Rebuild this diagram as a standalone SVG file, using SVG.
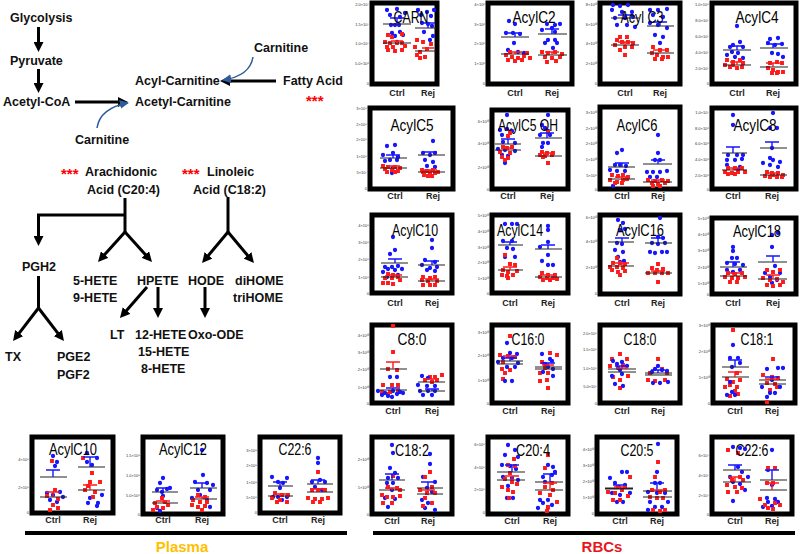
<svg xmlns="http://www.w3.org/2000/svg" width="800" height="554" viewBox="0 0 800 554">
<style>
.pw{font-family:"Liberation Sans",Arial,sans-serif;font-weight:bold;font-size:12.5px;fill:#111}
.st{font-family:"Liberation Sans",Arial,sans-serif;font-weight:bold;font-size:15px;fill:#f00}
.box{fill:#fff;stroke:#000;stroke-width:5}
.tk{font-family:"Liberation Sans",Arial,sans-serif;font-size:4px;fill:#333;text-anchor:end}
.ttl{font-family:"Liberation Sans",Arial,sans-serif;font-size:16px;fill:#000;text-anchor:middle}
.xl{font-family:"Liberation Sans",Arial,sans-serif;font-weight:bold;font-size:9px;fill:#222;text-anchor:middle}
.b{fill:none;stroke:#1616ff;stroke-width:4.3;stroke-linecap:round}
.r{fill:none;stroke:#ff1a1a;stroke-width:3.9;stroke-linecap:square}
.m{fill:none;stroke:#222;stroke-width:1.2}
.sb{fill:none;stroke:#1616ff;stroke-width:1.4}
.sr{fill:none;stroke:#ff1a1a;stroke-width:1.4}
.ar{fill:none;stroke:#000;stroke-width:3}
.bl{fill:none;stroke:#2e5b9a;stroke-width:1.5}
.grp{font-family:"Liberation Sans",Arial,sans-serif;font-weight:bold;font-size:15px;text-anchor:middle}
</style>
<defs>
<marker id="ah" viewBox="0 0 10 10" refX="4" refY="5" markerWidth="10" markerHeight="10" markerUnits="userSpaceOnUse" orient="auto"><path d="M0 0L10 5L0 10z" fill="#000"/></marker>
<marker id="bh" viewBox="0 0 10 10" refX="9" refY="5" markerWidth="9" markerHeight="9" markerUnits="userSpaceOnUse" orient="auto"><path d="M0 0L10 5L0 10z" fill="#2e5b9a"/></marker>
</defs>
<rect width="800" height="554" fill="#fff"/>

<g id="connectors">
<path class="ar" d="M38.5 27V46" marker-end="url(#ah)"/>
<path class="ar" d="M38.5 69V87" marker-end="url(#ah)"/>
<path class="ar" d="M75 102H122" marker-end="url(#ah)"/>
<path class="ar" d="M276 81H226" marker-end="url(#ah)"/>
<path class="bl" d="M253 57Q250 76 223 80" marker-end="url(#bh)"/>
<path class="bl" d="M97 128Q100 108 128 103" marker-end="url(#bh)"/>
<path class="ar" d="M125 198V232"/>
<path class="ar" d="M125 215H38.5V240" marker-end="url(#ah)"/>
<path class="ar" d="M125 232L102 257.5" marker-end="url(#ah)"/>
<path class="ar" d="M125 232L148 257.5" marker-end="url(#ah)"/>
<path class="ar" d="M228 197V232"/>
<path class="ar" d="M228 232L205.9 258.4" marker-end="url(#ah)"/>
<path class="ar" d="M228 232L250.1 258.4" marker-end="url(#ah)"/>
<path class="ar" d="M38.5 276V308"/>
<path class="ar" d="M38.5 308L16.7 336.3" marker-end="url(#ah)"/>
<path class="ar" d="M38.5 308L60.3 336.3" marker-end="url(#ah)"/>
<path class="ar" d="M147 287L123.9 313.5" marker-end="url(#ah)"/>
<path class="ar" d="M158 287V312" marker-end="url(#ah)"/>
<path class="ar" d="M205 287V312" marker-end="url(#ah)"/>
</g>

<g id="n-glycolysis"><text class="pw" x="10" y="22">Glycolysis</text></g>
<g id="n-pyruvate"><text class="pw" x="10" y="65">Pyruvate</text></g>
<g id="n-acetylcoa"><text class="pw" x="3" y="106">Acetyl-CoA</text></g>
<g id="n-acylcarnitine"><text class="pw" x="135" y="85">Acyl-Carnitine</text></g>
<g id="n-acetylcarnitine"><text class="pw" x="135" y="106">Acetyl-Carnitine</text></g>
<g id="n-fattyacid"><text class="pw" x="283" y="85">Fatty Acid</text><text class="st" x="306" y="106">***</text></g>
<g id="n-carnitine1"><text class="pw" x="254" y="52">Carnitine</text></g>
<g id="n-carnitine2"><text class="pw" x="75" y="144">Carnitine</text></g>
<g id="n-arachidonic"><text class="st" x="61" y="179">***</text><text class="pw" x="85" y="176">Arachidonic</text><text class="pw" x="87" y="194">Acid (C20:4)</text></g>
<g id="n-linoleic"><text class="st" x="182" y="179">***</text><text class="pw" x="207" y="176">Linoleic</text><text class="pw" x="193" y="194">Acid (C18:2)</text></g>
<g id="n-pgh2"><text class="pw" x="22" y="271">PGH2</text></g>
<g id="n-hete59"><text class="pw" x="73" y="285">5-HETE</text><text class="pw" x="73" y="302">9-HETE</text></g>
<g id="n-hpete"><text class="pw" x="137" y="285">HPETE</text></g>
<g id="n-hode"><text class="pw" x="188" y="285">HODE</text></g>
<g id="n-dihome"><text class="pw" x="235" y="285">diHOME</text><text class="pw" x="233" y="302">triHOME</text></g>
<g id="n-lt"><text class="pw" x="110" y="339">LT</text></g>
<g id="n-hete12"><text class="pw" x="135" y="339">12-HETE</text><text class="pw" x="138" y="356">15-HETE</text><text class="pw" x="141" y="373">8-HETE</text></g>
<g id="n-oxoode"><text class="pw" x="188" y="339">Oxo-ODE</text></g>
<g id="n-tx"><text class="pw" x="5" y="361">TX</text></g>
<g id="n-pge2"><text class="pw" x="57" y="361">PGE2</text><text class="pw" x="57" y="379">PGF2</text></g>

<!-- RBC row 1 -->
<g id="p-carn">
<rect class="box" x="372" y="3" width="65" height="81"/>
<text class="tk" x="369" y="5.5">2.0×10⁷</text><text class="tk" x="369" y="25.5">1.5×10⁷</text><text class="tk" x="369" y="44.5">1.0×10⁷</text><text class="tk" x="369" y="64.5">5.0×10⁶</text><text class="tk" x="369" y="84.5">0</text>
<path class="b" d="M387 10h0M397 9h0M405 13h0M390 15h0M400 17h0M391 25h0M395 25h0M399 25h0M392 33h0M400 32h0M395 36h0M403 35h0M397 42h0M418 10h0M427 12h0M434 10h0M421 15h0M431 16h0M422 23h0M428 24h0M432 26h0M424 32h0M433 36h0M430 40h0"/>
<path class="r" d="M388 35h0M392 37h0M402 34h0M385 42h0M390 43h0M397 43h0M402 43h0M387 47h0M393 47h0M405 46h0M388 50h0M395 51h0M402 50h0M417 40h0M423 42h0M431 44h0M415 47h0M427 49h0M420 52h0M417 55h0M425 57h0M420 58h0"/>
<path class="m" d="M383 24H411M383 43H411M415 28H436M415 51H436"/>
<path class="sb" d="M390 18H404M397 18V24M421 23H435M428 23V28"/>
<path class="sr" d="M391 41H403M397 41V43M422 48H434M428 48V51"/>
<text class="ttl" x="411" y="23" textLength="35" lengthAdjust="spacingAndGlyphs">CARN</text>
<text class="xl" x="397" y="96">Ctrl</text><text class="xl" x="428" y="96">Rej</text>
</g>

<g id="p-acylc2">
<rect class="box" x="488" y="3" width="84" height="81"/>
<text class="tk" x="485" y="5.5">4×10⁶</text><text class="tk" x="485" y="25.5">3×10⁶</text><text class="tk" x="485" y="44.5">2×10⁶</text><text class="tk" x="485" y="64.5">1×10⁶</text><text class="tk" x="485" y="84.5">0</text>
<path class="b" d="M509 21h0M515 24h0M506 33h0M513 33h0M520 34h0M514 43h0M508 50h0M518 52h0M524 53h0M547 24h0M555 25h0M560 24h0M552 28h0M542 30h0M555 32h0M548 40h0M555 40h0M545 43h0M557 43h0M553 48h0"/>
<path class="r" d="M506 55h0M512 57h0M518 58h0M524 56h0M530 58h0M508 60h0M515 61h0M522 60h0M510 52h0M527 53h0M542 52h0M548 53h0M555 52h0M562 54h0M545 57h0M552 58h0M560 57h0M547 62h0M556 61h0"/>
<path class="m" d="M501 37H529M501 54H529M538 34H567M538 55H567"/>
<path class="sb" d="M508 33H522M515 33V37M545 29H559M552 29V34"/>
<path class="sr" d="M508 52H522M515 52V54M545 52H559M552 52V55"/>
<text class="ttl" x="534" y="23" textLength="43" lengthAdjust="spacingAndGlyphs">AcylC2</text>
<text class="xl" x="515" y="96">Ctrl</text><text class="xl" x="552" y="96">Rej</text>
</g>

<g id="p-acylc3">
<rect class="box" x="600" y="3" width="80" height="81"/>
<text class="tk" x="597" y="5.5">8×10¹⁰</text><text class="tk" x="597" y="25.5">6×10¹⁰</text><text class="tk" x="597" y="44.5">4×10¹⁰</text><text class="tk" x="597" y="64.5">2×10¹⁰</text><text class="tk" x="597" y="84.5">0</text>
<path class="b" d="M613 5h0M620 6h0M628 5h0M612 10h0M622 12h0M632 12h0M615 18h0M625 18h0M633 17h0M617 25h0M627 25h0M635 27h0M650 10h0M658 10h0M667 9h0M653 15h0M663 17h0M650 23h0M658 25h0M667 28h0M655 35h0M663 37h0M660 43h0"/>
<path class="r" d="M620 37h0M627 37h0M617 40h0M622 42h0M628 42h0M633 43h0M615 45h0M625 47h0M632 47h0M620 50h0M625 55h0M653 47h0M660 50h0M667 50h0M652 53h0M657 55h0M663 57h0M668 57h0M655 59h0M662 59h0"/>
<path class="m" d="M611 18H639M611 45H639M647 26H674M647 53H674"/>
<path class="sb" d="M618 15H632M625 15V18M653 22H667M660 22V26"/>
<path class="sr" d="M618 42H632M625 42V45M653 50H667M660 50V53"/>
<text class="ttl" x="642" y="23" textLength="43" lengthAdjust="spacingAndGlyphs">Acyl C3</text>
<text class="xl" x="625" y="96">Ctrl</text><text class="xl" x="660" y="96">Rej</text>
</g>

<g id="p-acylc4">
<rect class="box" x="712" y="3" width="84" height="81"/>
<text class="tk" x="709" y="5.5">1.0×10⁸</text><text class="tk" x="709" y="21.5">8.0×10⁷</text><text class="tk" x="709" y="37.5">6.0×10⁷</text><text class="tk" x="709" y="53.5">4.0×10⁷</text><text class="tk" x="709" y="69.5">2.0×10⁷</text><text class="tk" x="709" y="84.5">0</text>
<path class="b" d="M737 26h0M740 42h0M733 45h0M730 47h0M743 47h0M732 52h0M738 53h0M727 55h0M735 57h0M743 58h0M770 39h0M778 38h0M768 43h0M775 45h0M782 44h0M772 53h0M778 54h0M783 57h0"/>
<path class="r" d="M727 60h0M733 62h0M740 60h0M743 63h0M725 65h0M730 67h0M737 68h0M742 67h0M733 65h0M770 63h0M777 62h0M782 63h0M768 68h0M773 70h0M778 72h0M783 72h0M772 73h0M777 73h0"/>
<path class="m" d="M723 50H751M723 65H751M760 48H788M760 67H788"/>
<path class="sb" d="M730 46H744M737 46V50M766 44H780M773 44V48"/>
<path class="sr" d="M730 62H744M737 62V65M766 63H780M773 63V67"/>
<text class="ttl" x="757" y="23" textLength="43" lengthAdjust="spacingAndGlyphs">AcylC4</text>
<text class="xl" x="737" y="96">Ctrl</text><text class="xl" x="773" y="96">Rej</text>
</g>

<!-- RBC row 2 -->
<g id="p-acylc5">
<rect class="box" x="370" y="108" width="83" height="81"/>
<text class="tk" x="367" y="109.5">3×10⁸</text><text class="tk" x="367" y="125.5">2×10⁸</text><text class="tk" x="367" y="140.5">2×10⁸</text><text class="tk" x="367" y="157.5">1×10⁸</text><text class="tk" x="367" y="173.5">5×10⁷</text><text class="tk" x="367" y="189.5">0</text>
<path class="b" d="M387 146h0M395 145h0M383 155h0M393 153h0M398 157h0M385 161h0M390 160h0M397 160h0M393 168h0M392 173h0M433 141h0M423 153h0M435 153h0M430 155h0M425 160h0M433 162h0M427 166h0M435 167h0"/>
<path class="r" d="M383 166h0M388 167h0M395 167h0M400 168h0M385 169h0M392 170h0M398 171h0M387 172h0M395 172h0M422 170h0M427 171h0M433 170h0M423 172h0M430 172h0M435 173h0M424 175h0M432 176h0M428 176h0M438 172h0"/>
<path class="m" d="M380 158H407M380 168H407M418 155H445M418 172H445"/>
<path class="sb" d="M386 155H400M393 155V158M423 152H437M430 152V155"/>
<path class="sr" d="M386 166H400M393 166V168M423 170H437M430 170V172"/>
<text class="ttl" x="412" y="131" textLength="43" lengthAdjust="spacingAndGlyphs">AcylC5</text>
<text class="xl" x="395" y="199">Ctrl</text><text class="xl" x="433" y="199">Rej</text>
</g>

<g id="p-acylc5oh">
<rect class="box" x="492" y="110" width="76" height="79"/>
<text class="tk" x="489" y="122.5">6×10¹⁰</text><text class="tk" x="489" y="144.5">4×10¹⁰</text><text class="tk" x="489" y="168.5">2×10¹⁰</text><text class="tk" x="489" y="190.5">0</text>
<path class="b" d="M507 115h0M500 130h0M507 129h0M512 131h0M502 135h0M515 143h0M503 142h0M498 149h0M505 150h0M515 151h0M502 155h0M508 156h0M505 163h0M548 115h0M542 125h0M545 128h0M548 131h0M540 135h0M550 135h0M543 143h0M548 143h0M542 147h0"/>
<path class="r" d="M510 133h0M508 136h0M503 147h0M512 147h0M507 148h0M500 152h0M510 153h0M502 157h0M508 158h0M505 160h0M548 132h0M542 152h0M547 153h0M553 153h0M540 155h0M545 156h0M552 155h0M548 163h0M543 157h0"/>
<path class="m" d="M495 144H521M495 150H521M535 138H562M535 156H562"/>
<path class="sb" d="M501 139H515M508 139V144M540 133H554M547 133V138"/>
<path class="sr" d="M502 148H514M508 148V150M540 153H554M547 153V156"/>
<text class="ttl" x="528" y="131" textLength="60" lengthAdjust="spacingAndGlyphs">AcylC5 OH</text>
<text class="xl" x="508" y="199">Ctrl</text><text class="xl" x="547" y="199">Rej</text>
</g>

<g id="p-acylc6">
<rect class="box" x="600" y="107" width="80" height="82"/>
<text class="tk" x="597" y="113.5">3×10¹⁰</text><text class="tk" x="597" y="129.5">2×10¹⁰</text><text class="tk" x="597" y="144.5">2×10¹⁰</text><text class="tk" x="597" y="160.5">1×10¹⁰</text><text class="tk" x="597" y="176.5">5×10⁹</text><text class="tk" x="597" y="190.5">0</text>
<path class="b" d="M622 150h0M617 153h0M615 165h0M620 165h0M626 166h0M610 170h0M617 171h0M625 171h0M613 186h0M658 135h0M658 153h0M655 160h0M660 160h0M647 172h0M653 172h0M660 172h0M667 171h0M650 177h0M657 177h0"/>
<path class="r" d="M612 175h0M618 176h0M623 175h0M628 177h0M610 180h0M617 182h0M623 180h0M615 183h0M622 183h0M627 179h0M648 180h0M655 181h0M662 180h0M668 181h0M652 183h0M658 184h0M665 183h0M653 186h0M660 186h0"/>
<path class="m" d="M608 167H635M608 179H635M643 164H672M643 182H672"/>
<path class="sb" d="M615 163H629M622 163V167M651 160H665M658 160V164"/>
<path class="sr" d="M615 177H629M622 177V179M651 180H665M658 180V182"/>
<text class="ttl" x="637" y="131" textLength="41" lengthAdjust="spacingAndGlyphs">AcylC6</text>
<text class="xl" x="622" y="199">Ctrl</text><text class="xl" x="658" y="199">Rej</text>
</g>

<g id="p-acylc8">
<rect class="box" x="712" y="108" width="84" height="81"/>
<text class="tk" x="709" y="113.5">1.0×10⁷</text><text class="tk" x="709" y="129.5">8.0×10⁶</text><text class="tk" x="709" y="144.5">6.0×10⁶</text><text class="tk" x="709" y="160.5">4.0×10⁶</text><text class="tk" x="709" y="176.5">2.0×10⁶</text><text class="tk" x="709" y="190.5">0</text>
<path class="b" d="M733 115h0M733 125h0M728 155h0M737 155h0M743 155h0M727 160h0M735 160h0M742 159h0M727 165h0M740 167h0M738 170h0M773 113h0M770 128h0M777 128h0M772 148h0M770 158h0M773 160h0M780 162h0M763 163h0M770 165h0M778 167h0"/>
<path class="r" d="M728 168h0M735 168h0M742 168h0M725 172h0M732 173h0M738 172h0M745 172h0M728 174h0M735 174h0M767 172h0M772 173h0M778 173h0M783 175h0M765 176h0M770 177h0M777 177h0M782 177h0M773 175h0"/>
<path class="m" d="M722 153H747M722 170H747M760 148H787M760 175H787"/>
<path class="sb" d="M726 147H740M733 147V153M765 142H779M772 142V148"/>
<path class="sr" d="M726 168H740M733 168V170M765 173H779M772 173V175"/>
<text class="ttl" x="755" y="131" textLength="43" lengthAdjust="spacingAndGlyphs">AcylC8</text>
<text class="xl" x="733" y="199">Ctrl</text><text class="xl" x="772" y="199">Rej</text>
</g>

<!-- RBC row 3 -->
<g id="p-acylc10">
<rect class="box" x="372" y="215" width="80" height="78"/>
<text class="tk" x="369" y="226.5">4×10⁸</text><text class="tk" x="369" y="243.5">3×10⁸</text><text class="tk" x="369" y="260.5">2×10⁸</text><text class="tk" x="369" y="278.5">1×10⁸</text><text class="tk" x="369" y="295">0</text>
<path class="b" d="M393 237h0M395 250h0M390 254h0M385 267h0M392 267h0M398 266h0M388 269h0M395 270h0M383 272h0M402 269h0M387 277h0M398 275h0M432 240h0M432 248h0M425 260h0M435 262h0M422 265h0M430 268h0M437 267h0M427 270h0M435 271h0"/>
<path class="r" d="M388 274h0M393 275h0M398 277h0M385 278h0M392 278h0M400 280h0M388 283h0M393 284h0M383 283h0M423 277h0M430 278h0M435 277h0M422 280h0M428 281h0M437 281h0M423 285h0M430 285h0M435 285h0"/>
<path class="m" d="M381 263H408M381 277H408M418 265H445M418 281H445"/>
<path class="sb" d="M388 259H402M395 259V263M425 261H439M432 261V265"/>
<path class="sr" d="M388 275H402M395 275V277M425 279H439M432 279V281"/>
<text class="ttl" x="415" y="236" textLength="46" lengthAdjust="spacingAndGlyphs">AcylC10</text>
<text class="xl" x="395" y="306">Ctrl</text><text class="xl" x="432" y="306">Rej</text>
</g>

<g id="p-acylc14">
<rect class="box" x="492" y="215" width="76" height="78"/>
<text class="tk" x="489" y="216.5">5×10¹⁰</text><text class="tk" x="489" y="232.5">4×10¹⁰</text><text class="tk" x="489" y="248.5">3×10¹⁰</text><text class="tk" x="489" y="263.5">2×10¹⁰</text><text class="tk" x="489" y="279.5">1×10¹⁰</text><text class="tk" x="489" y="295">0</text>
<path class="b" d="M505 224h0M512 224h0M517 224h0M503 241h0M512 241h0M507 248h0M513 249h0M505 257h0M515 257h0M548 226h0M548 230h0M548 242h0M540 247h0M548 255h0M542 261h0M548 265h0M553 265h0"/>
<path class="r" d="M505 255h0M510 264h0M515 265h0M503 270h0M508 272h0M517 271h0M502 275h0M507 276h0M513 275h0M508 278h0M542 273h0M548 275h0M555 275h0M540 277h0M547 278h0M553 278h0M543 280h0M550 280h0M557 279h0"/>
<path class="m" d="M498 245H523M498 270H523M535 249H562M535 277H562"/>
<path class="sb" d="M503 242H517M510 242V245M541 245H555M548 245V249"/>
<path class="sr" d="M503 267H517M510 267V270M541 275H555M548 275V277"/>
<text class="ttl" x="520" y="236" textLength="46" lengthAdjust="spacingAndGlyphs">AcylC14</text>
<text class="xl" x="510" y="306">Ctrl</text><text class="xl" x="548" y="306">Rej</text>
</g>

<g id="p-acylc16">
<rect class="box" x="600" y="215" width="80" height="79"/>
<text class="tk" x="597" y="218.5">6×10¹⁰</text><text class="tk" x="597" y="242.5">4×10¹⁰</text><text class="tk" x="597" y="268.5">2×10¹⁰</text><text class="tk" x="597" y="295">0</text>
<path class="b" d="M618 220h0M623 223h0M620 230h0M625 229h0M617 243h0M622 244h0M615 250h0M623 252h0M618 257h0M620 262h0M624 261h0M660 218h0M658 237h0M663 238h0M652 243h0M658 244h0M665 243h0M650 252h0M655 253h0M662 252h0M667 252h0"/>
<path class="r" d="M617 258h0M613 263h0M620 263h0M625 264h0M610 267h0M617 267h0M623 268h0M612 270h0M618 272h0M625 271h0M620 275h0M658 264h0M652 268h0M657 270h0M663 269h0M648 273h0M655 273h0M662 273h0M668 273h0M658 282h0"/>
<path class="m" d="M608 242H634M608 266H634M645 243H672M645 273H672"/>
<path class="sb" d="M615 238H629M622 238V242M651 238H665M658 238V243"/>
<path class="sr" d="M615 263H629M622 263V266M651 271H665M658 271V273"/>
<text class="ttl" x="640" y="236" textLength="48" lengthAdjust="spacingAndGlyphs">AcylC16</text>
<text class="xl" x="622" y="306">Ctrl</text><text class="xl" x="658" y="306">Rej</text>
</g>

<g id="p-acylc18">
<rect class="box" x="712" y="218" width="84" height="76"/>
<text class="tk" x="709" y="219.5">5×10¹⁰</text><text class="tk" x="709" y="235.5">4×10¹⁰</text><text class="tk" x="709" y="251.5">3×10¹⁰</text><text class="tk" x="709" y="268.5">2×10¹⁰</text><text class="tk" x="709" y="284.5">1×10¹⁰</text><text class="tk" x="709" y="296">0</text>
<path class="b" d="M733 247h0M733 251h0M732 258h0M737 258h0M727 263h0M735 264h0M743 265h0M727 270h0M733 272h0M740 270h0M772 235h0M778 233h0M772 247h0M775 266h0M765 273h0M780 273h0M770 277h0M777 280h0M772 283h0"/>
<path class="r" d="M728 273h0M735 274h0M742 273h0M725 277h0M732 278h0M738 278h0M745 277h0M730 282h0M737 282h0M767 270h0M773 272h0M780 270h0M763 278h0M770 280h0M777 279h0M783 282h0M767 285h0M773 286h0M780 285h0"/>
<path class="m" d="M720 267H747M720 276H747M758 262H787M758 279H787"/>
<path class="sb" d="M726 262H740M733 262V267M766 256H780M773 256V262"/>
<path class="sr" d="M726 273H740M733 273V276M766 275H780M773 275V279"/>
<text class="ttl" x="757" y="237" textLength="48" lengthAdjust="spacingAndGlyphs">AcylC18</text>
<text class="xl" x="733" y="306">Ctrl</text><text class="xl" x="773" y="306">Rej</text>
</g>

<!-- RBC row 4 -->
<g id="p-c80">
<rect class="box" x="372" y="325" width="80" height="78"/>
<text class="tk" x="369" y="336.5">4×10¹⁰</text><text class="tk" x="369" y="353.5">3×10¹⁰</text><text class="tk" x="369" y="370.5">2×10¹⁰</text><text class="tk" x="369" y="388.5">1×10¹⁰</text><text class="tk" x="369" y="405">0</text>
<path class="r" d="M393 326h0M393 352h0M388 369h0M397 370h0M383 385h0M392 385h0M398 385h0M382 392h0M390 392h0M398 391h0M388 394h0M430 377h0M435 377h0M442 375h0M425 380h0M432 382h0M437 380h0"/>
<path class="b" d="M390 377h0M397 377h0M378 391h0M385 393h0M393 391h0M400 392h0M382 395h0M388 396h0M397 394h0M403 393h0M392 397h0M422 376h0M428 378h0M418 385h0M427 386h0M435 386h0M420 391h0M428 391h0M435 391h0M423 395h0M432 395h0"/>
<path class="m" d="M380 369H407M380 390H407M418 382H445M418 391H445"/>
<path class="sr" d="M386 362H400M393 362V369M425 379H439M432 379V382"/>
<path class="sb" d="M386 388H400M393 388V390M425 389H439M432 389V391"/>
<text class="ttl" x="412" y="345" textLength="29" lengthAdjust="spacingAndGlyphs">C8:0</text>
<text class="xl" x="393" y="414">Ctrl</text><text class="xl" x="432" y="414">Rej</text>
</g>

<g id="p-c160">
<rect class="box" x="492" y="325" width="76" height="78"/>
<text class="tk" x="489" y="333.5">3×10¹⁰</text><text class="tk" x="489" y="356.5">2×10¹⁰</text><text class="tk" x="489" y="381.5">1×10¹⁰</text><text class="tk" x="489" y="405">0</text>
<path class="r" d="M510 336h0M500 355h0M508 356h0M515 357h0M503 362h0M502 369h0M510 370h0M505 373h0M503 379h0M550 353h0M557 355h0M542 362h0M545 368h0M540 373h0M548 373h0M540 381h0M547 380h0M548 388h0"/>
<path class="b" d="M507 343h0M510 353h0M517 354h0M503 358h0M512 358h0M498 362h0M518 363h0M507 367h0M515 367h0M505 381h0M512 381h0M542 354h0M550 359h0M552 361h0M545 364h0M548 367h0M553 369h0M543 372h0M553 376h0"/>
<path class="m" d="M497 361H523M497 364H523M535 367H562M535 369H562"/>
<path class="sb" d="M503 358H517M510 358V361M541 363H555M548 363V367"/>
<path class="sr" d="M503 356H517M542 365H554"/>
<text class="ttl" x="528" y="345" textLength="33" lengthAdjust="spacingAndGlyphs">C16:0</text>
<text class="xl" x="510" y="414">Ctrl</text><text class="xl" x="548" y="414">Rej</text>
</g>

<g id="p-c180">
<rect class="box" x="600" y="325" width="80" height="78"/>
<text class="tk" x="597" y="334.5">2.0×10⁸</text><text class="tk" x="597" y="350.5">1.5×10⁸</text><text class="tk" x="597" y="369.5">1.0×10⁸</text><text class="tk" x="597" y="387.5">5.0×10⁷</text><text class="tk" x="597" y="405">0</text>
<path class="r" d="M620 354h0M612 359h0M627 359h0M610 366h0M623 365h0M613 377h0M628 376h0M620 380h0M620 388h0M658 359h0M662 369h0M650 373h0M667 373h0M648 380h0M655 381h0M665 380h0"/>
<path class="b" d="M613 361h0M622 362h0M617 364h0M627 366h0M618 368h0M622 374h0M612 376h0M615 384h0M623 386h0M620 370h0M658 366h0M655 369h0M662 370h0M652 372h0M667 371h0M653 383h0M660 383h0M668 382h0"/>
<path class="m" d="M608 369H636M608 372H636M645 373H672M645 375H672"/>
<path class="sb" d="M615 366H629M622 366V369M651 370H665M658 370V373"/>
<path class="sr" d="M616 368H628"/>
<text class="ttl" x="640" y="345" textLength="33" lengthAdjust="spacingAndGlyphs">C18:0</text>
<text class="xl" x="622" y="414">Ctrl</text><text class="xl" x="658" y="414">Rej</text>
</g>

<g id="p-c181">
<rect class="box" x="713" y="325" width="82" height="78"/>
<text class="tk" x="710" y="326.5">3×10¹⁰</text><text class="tk" x="710" y="352.5">2×10¹⁰</text><text class="tk" x="710" y="378.5">1×10¹⁰</text><text class="tk" x="710" y="405">0</text>
<path class="r" d="M733 330h0M737 373h0M727 379h0M733 382h0M740 380h0M730 385h0M737 387h0M725 387h0M735 391h0M730 396h0M738 394h0M773 359h0M763 375h0M772 377h0M778 378h0M767 383h0M775 384h0M770 390h0M777 387h0M767 402h0"/>
<path class="b" d="M733 345h0M730 358h0M738 358h0M732 367h0M740 363h0M730 382h0M735 395h0M727 395h0M732 392h0M767 369h0M778 368h0M783 368h0M772 380h0M762 387h0M780 387h0M770 393h0M775 393h0M767 397h0"/>
<path class="m" d="M722 367H749M722 377H749M759 380H786M759 384H786"/>
<path class="sb" d="M728 360H742M735 360V367M765 377H779M772 377V380"/>
<path class="sr" d="M728 372H742M735 372V377M765 379H779"/>
<text class="ttl" x="757" y="345" textLength="33" lengthAdjust="spacingAndGlyphs">C18:1</text>
<text class="xl" x="735" y="414">Ctrl</text><text class="xl" x="772" y="414">Rej</text>
</g>

<!-- RBC row 5 -->
<g id="p-c182">
<rect class="box" x="372" y="437" width="80" height="77"/>
<text class="tk" x="369" y="460.5">2×10¹⁰</text><text class="tk" x="369" y="488.5">1×10¹⁰</text><text class="tk" x="369" y="516">0</text>
<path class="b" d="M392 445h0M393 453h0M390 468h0M395 473h0M388 478h0M398 478h0M387 483h0M393 483h0M392 490h0M385 498h0M395 499h0M388 507h0M430 454h0M430 464h0M423 477h0M435 482h0M427 488h0M432 492h0M422 500h0M428 503h0M425 508h0M435 510h0"/>
<path class="r" d="M393 476h0M388 487h0M397 488h0M400 490h0M382 495h0M387 497h0M393 497h0M400 496h0M383 503h0M392 503h0M430 472h0M425 477h0M432 487h0M420 490h0M427 493h0M435 493h0M425 498h0M432 503h0M423 506h0"/>
<path class="m" d="M379 480H405M379 490H405M417 488H443M417 494H443"/>
<path class="sb" d="M385 474H399M392 474V480M421 482H435M428 482V488"/>
<path class="sr" d="M385 488H399M392 488V490M421 490H435M428 490V494"/>
<text class="ttl" x="412" y="456" textLength="34" lengthAdjust="spacingAndGlyphs">C18:2</text>
<text class="xl" x="392" y="524">Ctrl</text><text class="xl" x="428" y="524">Rej</text>
</g>

<g id="p-c204">
<rect class="box" x="488" y="437" width="80" height="77"/>
<text class="tk" x="485" y="445.5">6×10⁸</text><text class="tk" x="485" y="468.5">4×10⁸</text><text class="tk" x="485" y="490.5">2×10⁸</text><text class="tk" x="485" y="514">0</text>
<path class="b" d="M508 445h0M515 450h0M505 455h0M518 457h0M502 465h0M510 466h0M516 469h0M503 477h0M512 478h0M518 480h0M508 486h0M507 498h0M513 498h0M548 465h0M553 467h0M543 477h0M552 475h0M555 472h0M545 482h0M540 500h0M548 500h0M543 503h0M552 505h0M538 508h0M548 508h0"/>
<path class="r" d="M514 459h0M508 465h0M515 466h0M510 473h0M505 479h0M512 482h0M517 484h0M502 487h0M508 490h0M513 492h0M509 498h0M548 455h0M545 468h0M552 483h0M545 487h0M553 490h0M540 493h0M550 495h0M557 502h0M548 507h0M547 511h0"/>
<path class="m" d="M497 472H525M497 480H525M535 482H563M535 490H563"/>
<path class="sb" d="M505 465H519M512 465V472M543 474H557M550 474V482"/>
<path class="sr" d="M505 476H519M512 476V480M543 483H557M550 483V490"/>
<text class="ttl" x="533" y="456" textLength="34" lengthAdjust="spacingAndGlyphs">C20:4</text>
<text class="xl" x="512" y="524">Ctrl</text><text class="xl" x="550" y="524">Rej</text>
</g>

<g id="p-c205">
<rect class="box" x="597" y="437" width="80" height="77"/>
<text class="tk" x="594" y="450.5">4×10¹⁰</text><text class="tk" x="594" y="466.5">3×10¹⁰</text><text class="tk" x="594" y="482.5">2×10¹⁰</text><text class="tk" x="594" y="498.5">1×10¹⁰</text><text class="tk" x="594" y="514.5">0</text>
<path class="b" d="M610 478h0M622 472h0M627 472h0M615 483h0M625 485h0M612 493h0M620 495h0M630 493h0M617 502h0M623 502h0M658 444h0M657 472h0M655 483h0M660 483h0M648 492h0M657 493h0M665 493h0M650 502h0M668 502h0M655 507h0M662 507h0M648 510h0"/>
<path class="r" d="M630 477h0M618 487h0M625 487h0M608 492h0M615 493h0M622 490h0M628 496h0M613 500h0M620 500h0M658 462h0M655 477h0M652 490h0M660 492h0M665 490h0M650 497h0M657 498h0M663 498h0M653 510h0M660 511h0M665 510h0"/>
<path class="m" d="M605 489H633M605 488H633M643 491H672M643 497H672"/>
<path class="sb" d="M613 485H627M620 485V489M650 483H664M657 483V491"/>
<path class="sr" d="M614 487H626M650 490H664"/>
<text class="ttl" x="637" y="456" textLength="33" lengthAdjust="spacingAndGlyphs">C20:5</text>
<text class="xl" x="620" y="524">Ctrl</text><text class="xl" x="657" y="524">Rej</text>
</g>

<g id="p-c226r">
<rect class="box" x="712" y="437" width="80" height="77"/>
<text class="tk" x="709" y="456.5">6×10⁷</text><text class="tk" x="709" y="476.5">4×10⁷</text><text class="tk" x="709" y="496.5">2×10⁷</text><text class="tk" x="709" y="516">0</text>
<path class="b" d="M733 447h0M740 448h0M745 449h0M738 467h0M742 472h0M730 477h0M748 477h0M733 482h0M740 484h0M745 490h0M733 501h0M772 450h0M768 470h0M772 485h0M767 498h0M775 499h0M768 502h0M763 507h0M772 506h0M778 502h0"/>
<path class="r" d="M728 450h0M738 453h0M740 477h0M732 480h0M743 480h0M727 485h0M735 487h0M742 488h0M728 492h0M737 492h0M768 468h0M775 468h0M767 483h0M773 483h0M760 499h0M765 505h0M775 503h0M780 505h0M768 508h0M773 509h0"/>
<path class="m" d="M723 470H751M723 482H751M760 480H787M760 490H787"/>
<path class="sb" d="M728 465H742M735 465V470M765 470H779M772 470V480"/>
<path class="sr" d="M728 477H742M735 477V482M765 483H779M772 483V490"/>
<text class="ttl" x="752" y="456" textLength="33" lengthAdjust="spacingAndGlyphs">C22:6</text>
<text class="xl" x="735" y="524">Ctrl</text><text class="xl" x="772" y="524">Rej</text>
</g>

<!-- Plasma -->
<g id="p-acylc10-plasma">
<rect class="box" x="32" y="437" width="81" height="76"/>
<text class="tk" x="29" y="460.5">4×10⁸</text><text class="tk" x="29" y="488.5">2×10⁸</text><text class="tk" x="29" y="514">0</text>
<path class="b" d="M53 456h0M57 462h0M55 466h0M60 492h0M47 493h0M53 495h0M63 497h0M50 500h0M57 502h0M87 453h0M97 458h0M87 462h0M92 465h0M90 498h0M102 495h0M98 503h0M88 503h0M97 506h0"/>
<path class="r" d="M52 461h0M55 490h0M47 496h0M58 499h0M53 505h0M58 508h0M50 510h0M83 458h0M92 473h0M90 482h0M100 482h0M88 486h0M85 490h0M95 492h0M93 497h0"/>
<path class="m" d="M40 477H67M40 497H67M78 467H105M78 490H105"/>
<path class="sb" d="M46 470H60M53 470V477M83 457H97M90 457V467"/>
<path class="sr" d="M46 492H60M53 492V497M83 485H97M90 485V490"/>
<text class="ttl" x="73" y="455" textLength="48" lengthAdjust="spacingAndGlyphs">AcylC10</text>
<text class="xl" x="53" y="523">Ctrl</text><text class="xl" x="90" y="523">Rej</text>
</g>

<g id="p-acylc12-plasma">
<rect class="box" x="143" y="437" width="80" height="77"/>
<text class="tk" x="140" y="456.5">1.5×10⁹</text><text class="tk" x="140" y="476.5">1.0×10⁹</text><text class="tk" x="140" y="496.5">5.0×10⁸</text><text class="tk" x="140" y="516">0</text>
<path class="b" d="M163 478h0M160 483h0M167 489h0M157 490h0M162 492h0M170 488h0M163 496h0M157 508h0M160 511h0M202 450h0M203 475h0M195 482h0M207 483h0M213 485h0M198 490h0M210 490h0M200 495h0M192 498h0M207 500h0M210 507h0"/>
<path class="r" d="M162 498h0M155 503h0M165 502h0M157 507h0M163 508h0M168 505h0M153 510h0M198 495h0M205 497h0M193 500h0M200 502h0M207 502h0M192 505h0M198 507h0M205 506h0M202 510h0"/>
<path class="m" d="M152 492H178M152 503H178M190 488H217M190 499H217"/>
<path class="sb" d="M156 488H170M163 488V492M195 483H209M202 483V488"/>
<path class="sr" d="M156 501H170M163 501V503M195 497H209M202 497V499"/>
<text class="ttl" x="183" y="455" textLength="48" lengthAdjust="spacingAndGlyphs">AcylC12</text>
<text class="xl" x="163" y="523">Ctrl</text><text class="xl" x="202" y="523">Rej</text>
</g>

<g id="p-c226-plasma">
<rect class="box" x="260" y="437" width="80" height="76"/>
<text class="tk" x="257" y="451.5">3×10⁹</text><text class="tk" x="257" y="466.5">2×10⁹</text><text class="tk" x="257" y="483.5">1×10⁹</text><text class="tk" x="257" y="498.5">5×10⁸</text><text class="tk" x="257" y="514">0</text>
<path class="b" d="M272 477h0M287 478h0M278 482h0M283 483h0M280 488h0M273 497h0M278 497h0M287 497h0M282 500h0M318 458h0M318 463h0M320 480h0M312 482h0M325 482h0M315 487h0M322 490h0"/>
<path class="r" d="M275 493h0M282 495h0M288 495h0M272 498h0M280 500h0M287 502h0M277 502h0M318 472h0M312 490h0M318 490h0M325 490h0M308 498h0M315 499h0M322 499h0M328 498h0M313 502h0M320 502h0"/>
<path class="m" d="M268 486H293M268 496H293M307 484H333M307 492H333"/>
<path class="sb" d="M273 482H287M280 482V486M311 480H325M318 480V484"/>
<path class="sr" d="M273 494H287M280 494V496M311 489H325M318 489V492"/>
<text class="ttl" x="295" y="455" textLength="33" lengthAdjust="spacingAndGlyphs">C22:6</text>
<text class="xl" x="280" y="523">Ctrl</text><text class="xl" x="318" y="523">Rej</text>
</g>

<g id="groups">
<path d="M25 533H347" stroke="#000" stroke-width="4"/>
<path d="M373 533H795" stroke="#000" stroke-width="4"/>
<text class="grp" x="182" y="552" fill="#ffc000">Plasma</text>
<text class="grp" x="602" y="552" fill="#e8161b">RBCs</text>
</g>
</svg>
